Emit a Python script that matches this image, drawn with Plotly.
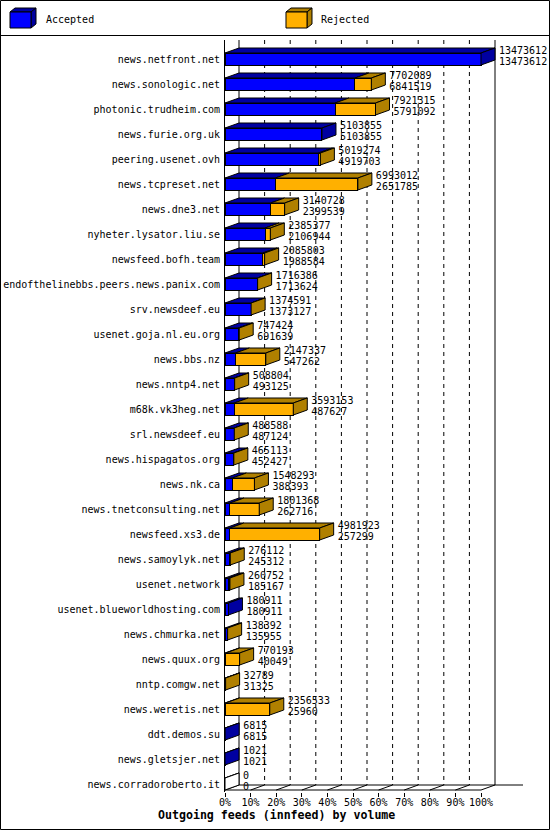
import plotly.graph_objects as go

# ---------------- data ----------------
hosts = [
    "news.netfront.net", "news.sonologic.net", "photonic.trudheim.com",
    "news.furie.org.uk", "peering.usenet.ovh", "news.tcpreset.net",
    "news.dne3.net", "nyheter.lysator.liu.se", "newsfeed.bofh.team",
    "endofthelinebbs.peers.news.panix.com", "srv.newsdeef.eu",
    "usenet.goja.nl.eu.org", "news.bbs.nz", "news.nntp4.net",
    "m68k.vk3heg.net", "srl.newsdeef.eu", "news.hispagatos.org",
    "news.nk.ca", "news.tnetconsulting.net", "newsfeed.xs3.de",
    "news.samoylyk.net", "usenet.network", "usenet.blueworldhosting.com",
    "news.chmurka.net", "news.quux.org", "nntp.comgw.net",
    "news.weretis.net", "ddt.demos.su", "news.gletsjer.net",
    "news.corradoroberto.it",
]
offered = [
    13473612, 7702089, 7921315, 5103855, 5019274, 6993012, 3140728,
    2385377, 2085803, 1716386, 1374591, 747424, 2147337, 508804,
    3593153, 488588, 465113, 1548293, 1801368, 4981923, 276112,
    260752, 180911, 138392, 770193, 32789, 2356533, 6815, 1021, 0,
]
accepted = [
    13473612, 6841519, 5791092, 5103855, 4919703, 2651785, 2399539,
    2106944, 1988584, 1713624, 1373127, 691639, 547262, 493125,
    487627, 487124, 452427, 388393, 262716, 257299, 245312,
    185167, 180911, 135955, 40049, 31325, 25960, 6815, 1021, 0,
]
tick_pcts = [0, 10, 20, 30, 40, 50, 60, 70, 80, 90, 100]
tick_labels = ["%d%%" % t for t in tick_pcts]
series_names = ["Accepted", "Rejected"]
title_text = "Outgoing feeds (innfeed) by volume"

# ---------------- styling / geometry ----------------
W, H = 550, 830
ML, MR, MT, MB = 225, 0, 40, 38
PLOT_L, PLOT_R, PLOT_T, PLOT_B = ML, W - MR, MT, H - MB
PX_PER_PCT = 2.56
ROW_PITCH = 25.0
ROW0_PX = 59.0
DX = 14 / PX_PER_PCT          # depth in x (data units)
DY = 5 / ROW_PITCH            # depth in y (rows)
HALF = 6 / ROW_PITCH          # half bar height (rows)
TXT_DX = 4 / PX_PER_PCT       # gap between bar and value label
FLOOR_FRONT = (790 - ROW0_PX) / ROW_PITCH
FLOOR_BACK = FLOOR_FRONT - DY
TOP_Y = (PLOT_T - ROW0_PX) / ROW_PITCH
BACK_RIGHT_END = (523 - PLOT_L) / PX_PER_PCT

BLUE, BLUE_D = "#0000FF", "#0000A0"
ORANGE, ORANGE_D = "#FFB000", "#B08000"
FONT = "DejaVu Sans Mono"

xmax = (PLOT_R - PLOT_L) / PX_PER_PCT
yrange = [(PLOT_B - ROW0_PX) / ROW_PITCH, TOP_Y]

scale = max(offered)
rows = list(range(len(hosts)))
acc_pct = [a / scale * 100 for a in accepted]
rej_pct = [(o - a) / scale * 100 for o, a in zip(offered, accepted)]
tot_pct = [o / scale * 100 for o in offered]

fig = go.Figure()

# front faces
fig.add_trace(go.Bar(y=rows, x=acc_pct, orientation="h", width=2 * HALF,
                     marker=dict(color=BLUE, line=dict(color="black", width=1)),
                     name=series_names[0], hoverinfo="skip"))
fig.add_trace(go.Bar(y=rows, x=rej_pct, orientation="h", width=2 * HALF,
                     marker=dict(color=ORANGE, line=dict(color="black", width=1)),
                     name=series_names[1], hoverinfo="skip"))


def poly(xs, ys, fill):
    fig.add_trace(go.Scatter(x=xs + [xs[0]], y=ys + [ys[0]], mode="lines",
                             fill="toself", fillcolor=fill,
                             line=dict(color="black", width=1),
                             hoverinfo="skip", showlegend=False))


for i in rows:
    top, bot = i - HALF, i + HALF
    a, t = acc_pct[i], tot_pct[i]
    segs = []
    if a > 0:
        segs.append((0, a, BLUE_D))
    if t - a > 0:
        segs.append((a, t, ORANGE_D))
    if not segs:
        segs.append((0, 0, "white"))
    for x0, x1, c in segs:
        poly([x0, x1, x1 + DX, x0 + DX], [top, top, top - DY, top - DY], c)
    side = ORANGE_D if t - a > 0 else (BLUE_D if a > 0 else "white")
    poly([t, t + DX, t + DX, t], [top, top - DY, bot - DY, bot], side)

# value labels
fig.add_trace(go.Scatter(x=[t + DX + TXT_DX for t in tot_pct], y=[i - 0.32 for i in rows],
                         mode="text", text=[str(v) for v in offered],
                         textposition="middle right", cliponaxis=False,
                         textfont=dict(family=FONT, size=10, color="black"),
                         hoverinfo="skip", showlegend=False))
fig.add_trace(go.Scatter(x=[t + DX + TXT_DX for t in tot_pct], y=[i + 0.13 for i in rows],
                         mode="text", text=[str(v) for v in accepted],
                         textposition="middle right", cliponaxis=False,
                         textfont=dict(family=FONT, size=10, color="black"),
                         hoverinfo="skip", showlegend=False))

shapes = []
# back gridlines (dashed) and back edges
for t in tick_pcts:
    dash = "solid" if t in (0, 100) else "4px,4px"
    shapes.append(dict(type="line", xref="x", yref="y", x0=t + DX, x1=t + DX,
                       y0=TOP_Y, y1=FLOOR_BACK, layer="below",
                       line=dict(color="black", width=1, dash=dash)))
# floor
shapes.append(dict(type="line", xref="x", yref="y", x0=0, x1=100,
                   y0=FLOOR_FRONT, y1=FLOOR_FRONT, layer="below",
                   line=dict(color="black", width=1)))
shapes.append(dict(type="line", xref="x", yref="y", x0=DX, x1=BACK_RIGHT_END,
                   y0=FLOOR_BACK, y1=FLOOR_BACK, layer="below",
                   line=dict(color="black", width=1)))
for t in tick_pcts:
    shapes.append(dict(type="line", xref="x", yref="y", x0=t, x1=t + DX,
                       y0=FLOOR_FRONT, y1=FLOOR_BACK, layer="below",
                       line=dict(color="black", width=1)))


def PX(px):
    return (px - PLOT_L) / (PLOT_R - PLOT_L)


def PY(py):
    return (PLOT_B - py) / (PLOT_B - PLOT_T)


# outer frame & legend separator
shapes.append(dict(type="rect", xref="paper", yref="paper",
                   x0=PX(0.5), x1=PX(549.5), y0=PY(0.5), y1=PY(829.5),
                   line=dict(color="black", width=1), layer="above"))
shapes.append(dict(type="line", xref="paper", yref="paper",
                   x0=PX(0), x1=PX(550), y0=PY(35.5), y1=PY(35.5),
                   line=dict(color="black", width=1), layer="above"))


def cube(x0, front, dark):
    fx0, fx1, fy0, fy1, d, e = x0, x0 + 21, 12, 28, 5, 4
    def path(pts):
        return "M " + " L ".join("%f,%f" % (PX(a), PY(b)) for a, b in pts) + " Z"
    shapes.append(dict(type="path", xref="paper", yref="paper", layer="above",
                       path=path([(fx0, fy0), (fx0 + d, fy0 - e), (fx1 + d, fy0 - e), (fx1, fy0)]),
                       fillcolor=dark, line=dict(color="black", width=1)))
    shapes.append(dict(type="path", xref="paper", yref="paper", layer="above",
                       path=path([(fx1, fy0), (fx1 + d, fy0 - e), (fx1 + d, fy1 - e), (fx1, fy1)]),
                       fillcolor=dark, line=dict(color="black", width=1)))
    shapes.append(dict(type="path", xref="paper", yref="paper", layer="above",
                       path=path([(fx0, fy0), (fx1, fy0), (fx1, fy1), (fx0, fy1)]),
                       fillcolor=front, line=dict(color="black", width=1)))


cube(10, BLUE, BLUE_D)
cube(286, ORANGE, ORANGE_D)

annotations = [
    dict(xref="paper", yref="paper", x=PX(44), y=PY(20), text=series_names[0],
         showarrow=False, xanchor="left", yanchor="middle",
         font=dict(family=FONT, size=10, color="black")),
    dict(xref="paper", yref="paper", x=PX(319), y=PY(20), text=series_names[1],
         showarrow=False, xanchor="left", yanchor="middle",
         font=dict(family=FONT, size=10, color="black")),
    dict(xref="paper", yref="paper", x=PX(276), y=PY(815), text="<b>%s</b>" % title_text,
         showarrow=False, xanchor="center", yanchor="middle",
         font=dict(family=FONT, size=11.6, color="black")),
]

fig.update_layout(
    width=W, height=H, margin=dict(l=ML, r=MR, t=MT, b=MB, pad=0, autoexpand=False),
    barmode="stack", showlegend=False,
    plot_bgcolor="white", paper_bgcolor="white",
    font=dict(family=FONT, size=10, color="black"),
    shapes=shapes, annotations=annotations,
    xaxis=dict(range=[0, xmax], tickvals=tick_pcts, ticktext=tick_labels,
               ticks="outside", ticklen=4, tickcolor="black", automargin=False,
               ticklabelstandoff=-3,
               showgrid=False, zeroline=False, showline=False,
               tickfont=dict(family=FONT, size=10, color="black"), fixedrange=True),
    yaxis=dict(range=yrange, tickvals=rows, ticktext=hosts, ticks="",
               showgrid=False, zeroline=False, showline=True, automargin=False,
               linecolor="black", linewidth=1, ticklabelstandoff=2,
               tickfont=dict(family=FONT, size=10, color="black"), fixedrange=True),
)

fig.write_html(
    "out.html",
    config={"displayModeBar": False},
    post_script="document.body.style.margin='0px';document.body.style.overflow='hidden';",
)
